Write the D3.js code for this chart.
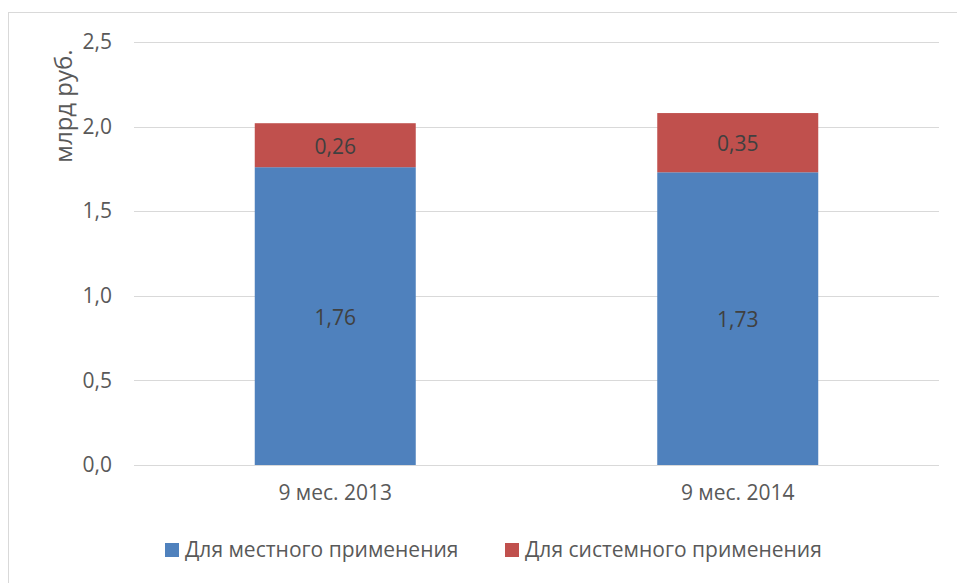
<!DOCTYPE html>
<html>
<head>
<meta charset="utf-8">
<script src="https://cdn.jsdelivr.net/npm/d3@7"></script>
<style>
  body { margin: 0; background: #fff; }
  text { font-family: "Open Sans", "Noto Sans", sans-serif; }
</style>
</head>
<body>
<div id="chart"></div>
<script>
var svgWidth = 957;
var svgHeight = 583;

var categories = ["9 мес. 2013", "9 мес. 2014"];
var localValues = [1.76, 1.73];
var systemValues = [0.26, 0.35];
var seriesNames = ["Для местного применения", "Для системного применения"];
var yTicks = [0, 0.5, 1.0, 1.5, 2.0, 2.5];

var colors = ["#4f81bd", "#c0504d"];
var fontSize = 21;

var margin = { top: 42, right: 18, bottom: 118, left: 134 };
var width = svgWidth - margin.left - margin.right;
var height = svgHeight - margin.top - margin.bottom;

var svg = d3.select("#chart")
  .append("svg")
  .attr("width", svgWidth)
  .attr("height", svgHeight);

// chart border
svg.append("rect")
  .attr("x", 8.5)
  .attr("y", 12.5)
  .attr("width", 960)
  .attr("height", 600)
  .attr("fill", "none")
  .attr("stroke", "#d9d9d9");

var chartGroup = svg.append("g")
  .attr("transform", `translate(${margin.left}, ${margin.top})`);

var xScale = d3.scaleBand()
  .domain(categories)
  .range([0, width])
  .paddingInner(0.6)
  .paddingOuter(0.3);

var yScale = d3.scaleLinear()
  .domain([0, 2.5])
  .range([height, 0]);

// gridlines
chartGroup.append("g")
  .selectAll("line")
  .data(yTicks)
  .enter()
  .append("line")
  .attr("x1", 0)
  .attr("x2", width)
  .attr("y1", d => Math.round(yScale(d)) + 0.5)
  .attr("y2", d => Math.round(yScale(d)) + 0.5)
  .attr("stroke", "#d9d9d9")
  .attr("stroke-width", 1);

// y tick labels
var leftAxis = d3.axisLeft(yScale)
  .tickValues(yTicks)
  .tickSize(0)
  .tickPadding(22)
  .tickFormat(d => d3.format(".1f")(d).replace(".", ","));

var yAxis = chartGroup.append("g").call(leftAxis);
yAxis.select(".domain").remove();
yAxis.selectAll("text")
  .attr("font-size", fontSize)
  .attr("fill", "#595959")
  .style("font-family", "'Open Sans', sans-serif");

// x labels
var bottomAxis = d3.axisBottom(xScale).tickSize(0).tickPadding(20);
var xAxis = chartGroup.append("g")
  .attr("transform", `translate(0, ${height})`)
  .call(bottomAxis);
xAxis.select(".domain").remove();
xAxis.selectAll("text")
  .attr("font-size", fontSize)
  .attr("fill", "#595959")
  .style("font-family", "'Open Sans', sans-serif");

// stacked bars
var data = categories.map((c, i) => ({ cat: c, local: localValues[i], system: systemValues[i] }));

var barGroup = chartGroup.append("g");

barGroup.selectAll(".local")
  .data(data)
  .enter()
  .append("rect")
  .attr("x", d => xScale(d.cat))
  .attr("y", d => yScale(d.local))
  .attr("width", xScale.bandwidth())
  .attr("height", d => height - yScale(d.local))
  .attr("fill", colors[0]);

barGroup.selectAll(".system")
  .data(data)
  .enter()
  .append("rect")
  .attr("x", d => xScale(d.cat))
  .attr("y", d => yScale(d.local + d.system))
  .attr("width", xScale.bandwidth())
  .attr("height", d => yScale(d.local) - yScale(d.local + d.system))
  .attr("fill", colors[1]);

// value labels
function fmt(v) { return d3.format(".2f")(v).replace(".", ","); }

barGroup.selectAll(".localLabel")
  .data(data)
  .enter()
  .append("text")
  .attr("x", d => xScale(d.cat) + xScale.bandwidth() / 2)
  .attr("y", d => yScale(d.local / 2))
  .attr("dy", "0.42em")
  .attr("text-anchor", "middle")
  .attr("font-size", fontSize)
  .attr("fill", "#404040")
  .text(d => fmt(d.local));

barGroup.selectAll(".systemLabel")
  .data(data)
  .enter()
  .append("text")
  .attr("x", d => xScale(d.cat) + xScale.bandwidth() / 2)
  .attr("y", d => yScale(d.local + d.system / 2))
  .attr("dy", "0.42em")
  .attr("text-anchor", "middle")
  .attr("font-size", fontSize)
  .attr("fill", "#404040")
  .text(d => fmt(d.system));

// y axis title
svg.append("text")
  .attr("transform", "translate(64, 106) rotate(-90)")
  .attr("text-anchor", "middle")
  .attr("dy", "0.35em")
  .attr("font-size", 24)
  .attr("fill", "#595959")
  .text("млрд руб.");

// legend
var legendX = [165, 505];
var legend = svg.append("g");
seriesNames.forEach(function(name, i) {
  legend.append("rect")
    .attr("x", legendX[i])
    .attr("y", 543)
    .attr("width", 14)
    .attr("height", 14)
    .attr("fill", colors[i]);
  legend.append("text")
    .attr("x", legendX[i] + 20)
    .attr("y", 550)
    .attr("dy", "0.35em")
    .attr("font-size", fontSize)
    .attr("fill", "#595959")
    .text(name);
});
</script>
</body>
</html>
